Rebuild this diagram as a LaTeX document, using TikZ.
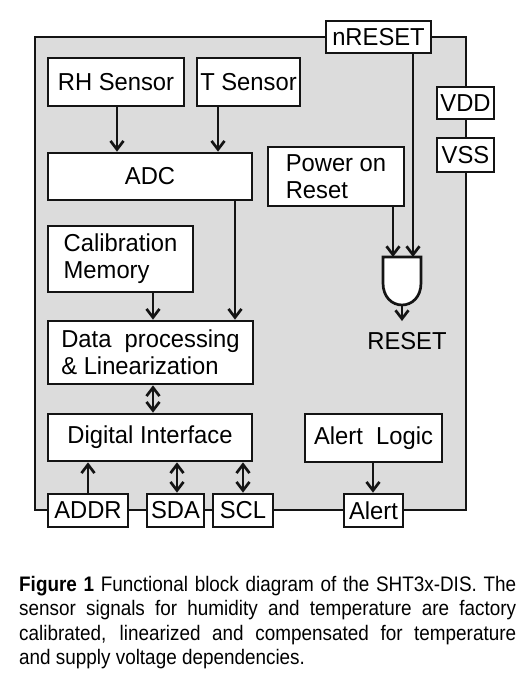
\documentclass[tikz,border=0pt]{standalone}
\usepackage{fontspec}
\setmainfont{Liberation Sans}
\newfontfamily\diafont[FakeStretch=0.97]{Liberation Sans}
\newfontfamily\capfont[FakeStretch=0.9]{Liberation Sans}
\usetikzlibrary{arrows.meta}
\definecolor{chipgray}{RGB}{220,220,220}
\definecolor{ink}{RGB}{20,20,20}
\begin{document}
\begin{tikzpicture}[x=1pt,y=-1pt,
  blk/.style={draw=ink, fill=white, line width=2.7pt, inner sep=0pt, align=center,
    font=\diafont\fontsize{24.5}{27}\selectfont},
  lblk/.style={blk, align=left},
  tip/.tip={Straight Barb[length=8.5pt,width=13pt,line width=2.7pt]},
  arr/.style={draw=ink, line width=2.9pt, -tip},
  darr/.style={draw=ink, line width=2.9pt, tip-tip},
]
\useasboundingbox (0,0) rectangle (529,689);
% chip outline
\draw[draw=ink, fill=chipgray, line width=2.5pt] (35,37) rectangle (466,510);

% blocks
\node[blk, minimum width=136pt, minimum height=48pt] (rh) at (116,82) {RH Sensor};
\node[blk, minimum width=103pt, minimum height=48pt] (ts) at (248.5,82) {T Sensor};
\node[blk, minimum width=204pt, minimum height=47pt] (adc) at (150,176.5) {ADC};
\node[lblk, minimum width=145pt, minimum height=66pt] (cal) at (120.5,259) {Calibration\\Memory};
\node[lblk, minimum width=205pt, minimum height=63pt] (dp) at (150.5,352.5) {Data\ \ processing\\\& Linearization};
\node[blk, minimum width=204pt, minimum height=47pt] (di) at (150,437.5) {Digital Interface};
\node[lblk, minimum width=136pt, minimum height=59pt] (por) at (336,176.5) {Power on\\Reset};
\node[blk, minimum width=137pt, minimum height=48pt] (al) at (373.5,438) {Alert\ \ Logic};

% pins
\node[blk, minimum width=105pt, minimum height=32pt] (nrst) at (378.5,37) {nRESET};
\node[blk, minimum width=57pt, minimum height=32pt] (vdd) at (465.5,103) {VDD};
\node[blk, minimum width=57pt, minimum height=34pt] (vss) at (465.5,155) {VSS};
\node[blk, minimum width=80pt, minimum height=33pt] (addr) at (88,510.5) {ADDR};
\node[blk, minimum width=57pt, minimum height=33pt] (sda) at (175.5,510.5) {SDA};
\node[blk, minimum width=60pt, minimum height=33pt] (scl) at (243,510.5) {SCL};
\node[blk, minimum width=59pt, minimum height=33pt] (alert) at (373.5,510.5) {Alert};

% reset gate
\coordinate (gate) at (402,257);
\coordinate (gout) at (402,305);
\draw[draw=ink, fill=white, line width=2.7pt] (383,257) -- (421,257) -- (421,283)
  .. controls (421,297) and (412,305) .. (402,305)
  .. controls (392,305) and (383,297) .. (383,283) -- cycle;
\coordinate (goutend) at (402,321);
\node[font=\diafont\fontsize{24.5}{27}\selectfont, inner sep=0pt] (rstlbl) at (407,341) {RESET};

% connectors
\draw[arr] ([xshift=1pt]rh.south) -- ([xshift=1pt]rh.south |- adc.north);
\draw[arr] ([xshift=-30.5pt]ts.south) -- ([xshift=-30.5pt]ts.south |- adc.north);
\draw[arr] ([xshift=85pt]adc.south) -- ([xshift=85pt]adc.south |- dp.north);
\draw[arr] ([xshift=32.5pt]cal.south) -- ([xshift=32.5pt]cal.south |- dp.north);
\draw[darr] ([xshift=2.5pt]dp.south) -- ([xshift=2.5pt]dp.south |- di.north);
\draw[arr] (addr.north) -- (addr.north |- di.south);
\draw[darr] ([xshift=1.5pt]sda.north) -- ([xshift=1.5pt]sda.north |- di.south);
\draw[darr] (scl.north) -- (scl.north |- di.south);
\draw[arr] ([xshift=-0.5pt]al.south) -- ([xshift=-0.5pt]al.south |- alert.north);
\draw[arr] ([xshift=34.5pt]nrst.south) -- ([xshift=34.5pt]nrst.south |- gate);
\draw[arr] ([xshift=57pt]por.south) -- ([xshift=57pt]por.south |- gate);
\draw[arr] (gout) -- (goutend);

% caption
\node[anchor=north west, inner sep=0pt, text width=497pt, align=justify,
  font=\capfont\fontsize{21}{24.5}\selectfont] (cap) at (19,576)
  {\hyphenpenalty=10000\exhyphenpenalty=10000\textbf{Figure 1} Functional block diagram of the SHT3x-DIS. The sensor signals for humidity and temperature are factory\linebreak calibrated, linearized and compensated for temperature\linebreak and supply voltage dependencies.};
\end{tikzpicture}
\end{document}
